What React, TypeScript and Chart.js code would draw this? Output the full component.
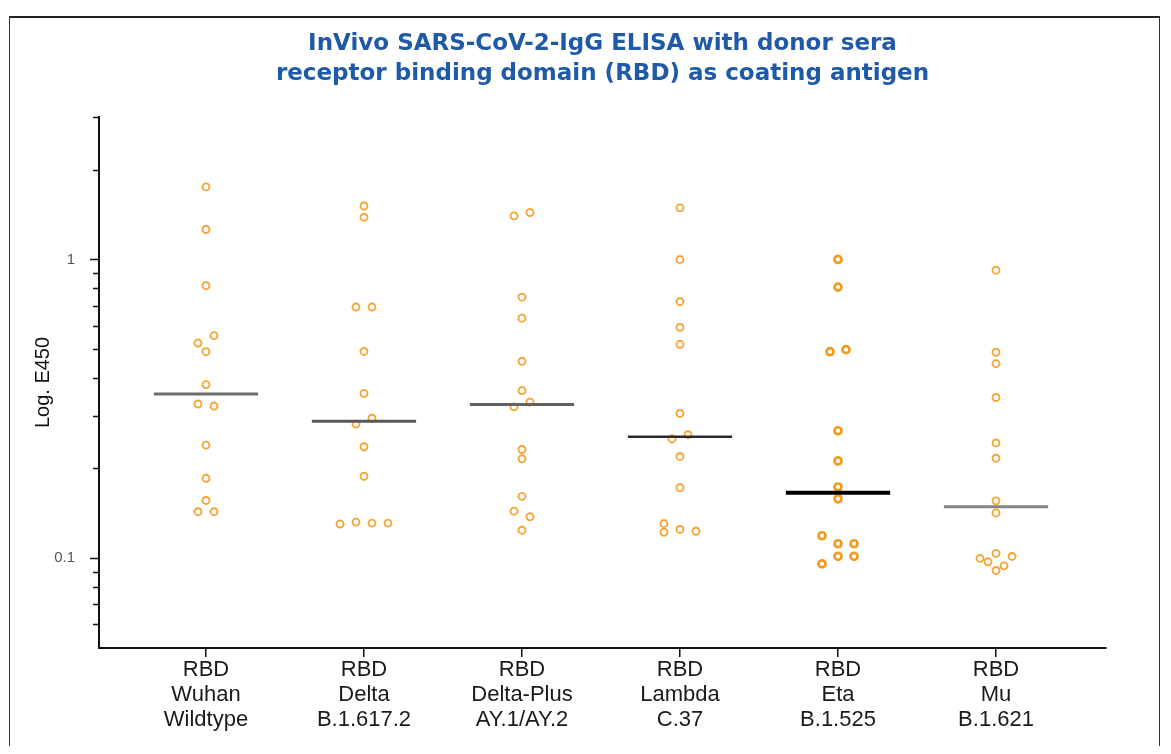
import React, { useEffect, useRef } from 'react';
import { Chart, registerables } from 'chart.js';

Chart.register(...registerables);

// ---------- data ----------
const titleLines = [
  'InVivo SARS-CoV-2-IgG ELISA with donor sera',
  'receptor binding domain (RBD) as coating antigen',
];
const yAxisTitle = 'Log. E450';

const categories: string[][] = [
  ['RBD', 'Wuhan', 'Wildtype'],
  ['RBD', 'Delta', 'B.1.617.2'],
  ['RBD', 'Delta-Plus', 'AY.1/AY.2'],
  ['RBD', 'Lambda', 'C.37'],
  ['RBD', 'Eta', 'B.1.525'],
  ['RBD', 'Mu', 'B.1.621'],
];

const wuhan = [1.75, 1.26, 0.817, 0.525, 0.556, 0.491, 0.381, 0.328, 0.323, 0.239, 0.185, 0.156, 0.143, 0.143];
const delta = [1.51, 1.385, 0.693, 0.693, 0.492, 0.356, 0.281, 0.294, 0.236, 0.188, 0.13, 0.132, 0.131, 0.131];
const deltaPlus = [1.4, 1.436, 0.748, 0.636, 0.456, 0.364, 0.321, 0.333, 0.231, 0.215, 0.161, 0.1436, 0.1375, 0.124];
const lambda = [1.489, 1.0, 0.722, 0.592, 0.52, 0.305, 0.2506, 0.259, 0.219, 0.172, 0.1306, 0.1247, 0.123, 0.122];
const eta = [1.0, 0.808, 0.491, 0.499, 0.267, 0.2115, 0.173, 0.158, 0.1188, 0.1117, 0.1117, 0.0957, 0.1013, 0.1013];
const mu = [0.921, 0.489, 0.448, 0.345, 0.243, 0.216, 0.1555, 0.1417, 0.0998, 0.1037, 0.1013, 0.0909, 0.0972, 0.0942];

const seriesValues = [wuhan, delta, deltaPlus, lambda, eta, mu];

const yMajorTicks = [1, 0.1];
const yMinorTicks = [3, 2, 0.9, 0.8, 0.7, 0.6, 0.5, 0.4, 0.3, 0.2, 0.09, 0.08, 0.07, 0.06];
const yMin = 0.05;
const yMax = 3;

// ---------- styles ----------
const FONT = "'Liberation Sans', Arial, Helvetica, sans-serif";
const TITLE_FONT = "'DejaVu Sans', Verdana, 'Liberation Sans', sans-serif";
const POINT_COLOR = '#F6A536';
const POINT_COLOR_STRONG = '#F39B1E';
const strongSeries = 4;
const medianColors = ['#6c6c6c', '#585858', '#626262', '#2a2a2a', '#000000', '#858585'];
const medianWidths = [3, 3, 3, 2.5, 4, 3];
const MEDIAN_HALF = 0.33;
const SLOT = 16;
const ROW_GAP = 8.3;
const MIN_DIST = 8.5;

function median(arr: number[]): number {
  const s = [...arr].sort((a, b) => a - b);
  const n = s.length;
  return n % 2 ? s[(n - 1) / 2] : (s[n / 2 - 1] + s[n / 2]) / 2;
}

// beeswarm: spread points of each category horizontally so they don't overlap
const swarmPlugin = {
  id: 'swarm',
  afterDatasetsUpdate(chart: any) {
    chart.data.datasets.forEach((ds: any, di: number) => {
      if (!ds.swarm) return;
      const els = chart.getDatasetMeta(di).data as any[];
      const order = els.map((_, i) => i).sort((a, b) => els[a].y - els[b].y || a - b);
      const placed: { x: number; y: number }[] = [];
      let k = 0;
      while (k < order.length) {
        const y0 = els[order[k]].y;
        const row: number[] = [];
        while (k < order.length && els[order[k]].y - y0 <= ROW_GAP) {
          row.push(order[k]);
          k++;
        }
        row.sort((a, b) => a - b);
        row.forEach((pi, r) => {
          const el = els[pi];
          const pref = (r - (row.length - 1) / 2) * SLOT;
          const cands = [pref];
          for (let s = 1; s <= 4; s++) cands.push(pref - s * SLOT, pref + s * SLOT);
          const cx = el.x;
          let off = pref;
          for (const c of cands) {
            if (placed.every((p) => Math.hypot(p.x - (cx + c), p.y - el.y) >= MIN_DIST)) {
              off = c;
              break;
            }
          }
          el.x = cx + off;
          placed.push({ x: el.x, y: el.y });
        });
      }
    });
  },
};

const yTickPlugin = {
  id: 'yTickMarks',
  afterDraw(chart: any) {
    const y = chart.scales.y;
    const ctx = chart.ctx;
    const x0 = chart.chartArea.left;
    ctx.save();
    ctx.strokeStyle = '#111';
    ctx.lineWidth = 1.5;
    const marks: [number, number][] = [
      ...yMajorTicks.map((v) => [v, 9] as [number, number]),
      ...yMinorTicks.map((v) => [v, 6] as [number, number]),
    ];
    marks.forEach(([v, len]) => {
      const py = Math.round(y.getPixelForValue(v)) + 0.5;
      ctx.beginPath();
      ctx.moveTo(x0 - len, py);
      ctx.lineTo(x0, py);
      ctx.stroke();
    });
    ctx.restore();
  },
};

export default function App() {
  const ref = useRef<HTMLCanvasElement | null>(null);

  useEffect(() => {
    if (!ref.current) return;
    Chart.defaults.font.family = FONT;

    const pointSets = seriesValues.map((vals, i) => ({
      label: categories[i].join(' '),
      swarm: true,
      data: vals.map((v) => ({ x: i, y: v })),
      showLine: false,
      pointStyle: 'circle',
      pointRadius: 3.5,
      pointBorderWidth: i === strongSeries ? 2.7 : 1.9,
      pointBorderColor: i === strongSeries ? POINT_COLOR_STRONG : POINT_COLOR,
      pointBackgroundColor: 'rgba(255,255,255,0)',
      order: 2,
    }));

    const medianSets = seriesValues.map((vals, i) => {
      const m = median(vals);
      return {
        label: 'median ' + categories[i].join(' '),
        data: [
          { x: i - MEDIAN_HALF, y: m },
          { x: i + MEDIAN_HALF, y: m },
        ],
        showLine: true,
        borderColor: medianColors[i],
        borderWidth: medianWidths[i],
        pointRadius: 0,
        order: 1,
      };
    });

    const chart = new Chart(ref.current, {
      type: 'scatter',
      data: { datasets: [...pointSets, ...medianSets] as any },
      options: {
        responsive: false,
        animation: false,
        events: [],
        layout: { padding: { left: 0, right: 53, top: 0, bottom: 0 } },
        plugins: {
          legend: { display: false },
          tooltip: { enabled: false },
          title: {
            display: true,
            text: titleLines,
            color: '#1f5aa8',
            fullSize: false,
            font: { family: TITLE_FONT, size: 23, weight: 'bold', lineHeight: 1.304 },
            padding: { top: 11, bottom: 28 },
          },
        },
        scales: {
          x: {
            type: 'linear',
            min: -0.677,
            max: 5.696,
            afterBuildTicks: (s: any) => {
              s.ticks = categories.map((_, i) => ({ value: i }));
            },
            afterFit: (s: any) => {
              s.height = 98;
            },
            ticks: {
              callback: (v: any) => categories[v as number] ?? '',
              autoSkip: false,
              maxRotation: 0,
              minRotation: 0,
              color: '#1a1a1a',
              padding: 0,
              font: { family: FONT, size: 22, lineHeight: 1.15 },
            },
            grid: {
              display: true,
              drawOnChartArea: false,
              drawTicks: true,
              tickLength: 9,
              color: '#111',
              lineWidth: 1.5,
            },
            border: { display: true, color: '#111', width: 2 },
          },
          y: {
            type: 'logarithmic',
            min: yMin,
            max: yMax,
            afterBuildTicks: (s: any) => {
              s.ticks = [...yMinorTicks, ...yMajorTicks]
                .sort((a, b) => a - b)
                .map((v) => ({ value: v, major: yMajorTicks.includes(v) }));
            },
            afterFit: (s: any) => {
              s.width = 89;
            },
            ticks: {
              callback: (v: any) => (yMajorTicks.includes(v as number) ? String(v) : ''),
              autoSkip: false,
              color: '#555',
              padding: 24,
              font: { family: FONT, size: 15 },
            },
            grid: { display: false, drawTicks: false },
            border: { display: true, color: '#111', width: 2 },
            title: {
              display: true,
              text: yAxisTitle,
              color: '#111',
              font: { family: FONT, size: 20, lineHeight: 1.2 },
              padding: { top: 21, bottom: 0 },
            },
          },
        },
      } as any,
      plugins: [swarmPlugin, yTickPlugin],
    });

    return () => chart.destroy();
  }, []);

  return (
    <div style={{ paddingTop: 8 }}>
      <div
        style={{
          marginLeft: 1,
          width: 1149,
          height: 728,
          borderTop: '2px solid #222',
          borderLeft: '1px solid #333',
          borderRight: '1px solid #333',
          background: '#fff',
        }}
      >
        <canvas ref={ref} width={1149} height={728} style={{ display: 'block', width: 1149, height: 728 }} />
      </div>
    </div>
  );
}
